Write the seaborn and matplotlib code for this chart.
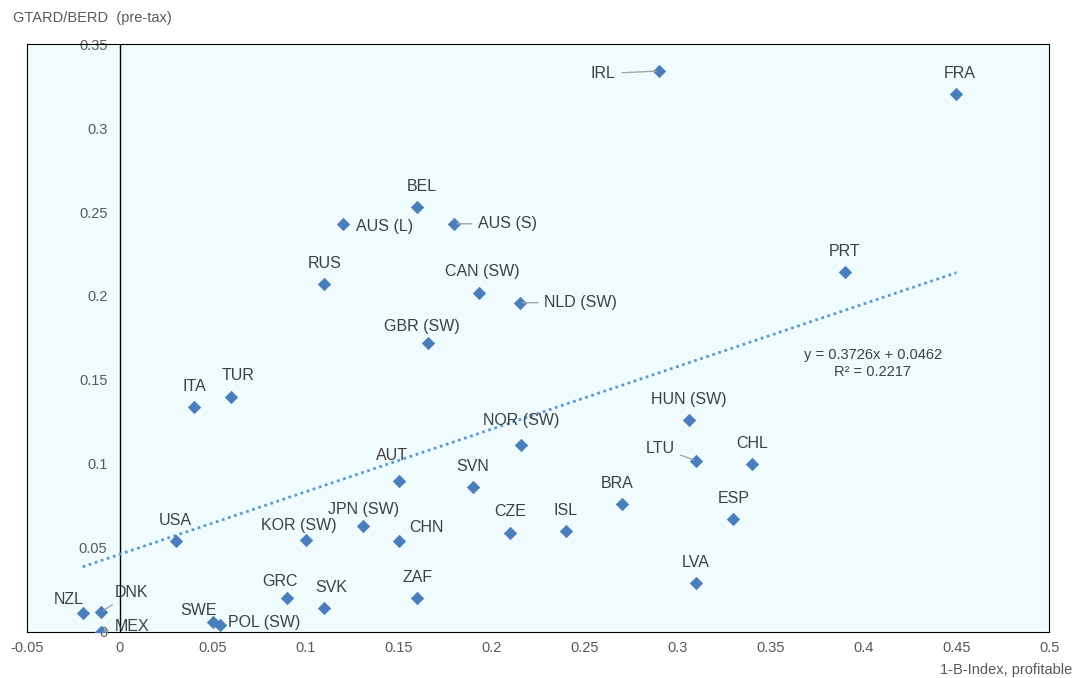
import matplotlib
matplotlib.use("Agg")
import matplotlib.pyplot as plt
import numpy as np
import pandas as pd
import seaborn as sns

sns.set_theme(style="white")
plt.rcParams['font.family'] = ['Liberation Sans', 'DejaVu Sans']

countries = ["NZL", "DNK", "MEX", "SWE", "POL (SW)", "GRC", "SVK", "ZAF", "USA", "KOR (SW)",
             "JPN (SW)", "CHN", "AUT", "SVN", "CZE", "ISL", "BRA", "NOR (SW)", "HUN (SW)", "LTU",
             "CHL", "ESP", "LVA", "ITA", "TUR", "GBR (SW)", "RUS", "CAN (SW)", "NLD (SW)",
             "AUS (L)", "AUS (S)", "BEL", "IRL", "PRT", "FRA"]
x_vals = [-0.02, -0.01, -0.01, 0.05, 0.054, 0.09, 0.11, 0.16, 0.03, 0.10,
          0.131, 0.15, 0.15, 0.19, 0.21, 0.24, 0.27, 0.216, 0.306, 0.31,
          0.34, 0.33, 0.31, 0.04, 0.06, 0.166, 0.11, 0.193, 0.215,
          0.12, 0.18, 0.16, 0.29, 0.39, 0.45]
y_vals = [0.011, 0.012, 0.0, 0.006, 0.004, 0.020, 0.014, 0.020, 0.054, 0.055,
          0.063, 0.054, 0.090, 0.086, 0.059, 0.060, 0.076, 0.111, 0.126, 0.102,
          0.100, 0.067, 0.029, 0.134, 0.140, 0.172, 0.207, 0.202, 0.196,
          0.243, 0.243, 0.253, 0.334, 0.214, 0.320]
slope, intercept = 0.3726, 0.0462

# label offsets in points (dx, dy); some get a leader line
offsets = {
    "NZL": (-10, 10), "DNK": (22, 14), "MEX": (22, 4), "SWE": (-10, 8), "POL (SW)": (32, 2),
    "GRC": (-5, 12), "SVK": (5, 15), "ZAF": (0, 15), "USA": (0, 15), "KOR (SW)": (-5, 10),
    "JPN (SW)": (0, 12), "CHN": (20, 10), "AUT": (-5, 18), "SVN": (0, 15), "CZE": (0, 15),
    "ISL": (0, 15), "BRA": (-3, 15), "NOR (SW)": (0, 18), "HUN (SW)": (0, 15), "LTU": (-26, 9),
    "CHL": (0, 15), "ESP": (0, 15), "LVA": (0, 15), "ITA": (0, 15), "TUR": (5, 15),
    "GBR (SW)": (-5, 12), "RUS": (0, 15), "CAN (SW)": (3, 15), "NLD (SW)": (44, 0),
    "AUS (L)": (30, -2), "AUS (S)": (38, 0), "BEL": (3, 15), "IRL": (-40, -2), "PRT": (0, 15),
    "FRA": (2, 15),
}
leaders = {"DNK", "MEX", "LTU", "NLD (SW)", "AUS (S)", "IRL"}

df = pd.DataFrame({"country": countries, "x": x_vals, "y": y_vals})

fig, ax = plt.subplots(figsize=(10.73, 6.78), dpi=100)
fig.subplots_adjust(left=0.025, right=0.978, top=0.935, bottom=0.068)
ax.set_facecolor("#f0fbfe")

sns.scatterplot(data=df, x="x", y="y", marker="D", s=40, color="#4a7ebb",
                edgecolor="#4a7ebb", ax=ax, zorder=3)
xt = np.array([-0.02, 0.45])
sns.lineplot(x=xt, y=slope * xt + intercept, ax=ax, color="#5b9bd5", lw=2,
             linestyle=(0, (1, 1.3)), zorder=2)

for c, xv, yv in zip(countries, x_vals, y_vals):
    dx, dy = offsets[c]
    props = dict(arrowstyle="-", color="#a6a6a6", lw=1) if c in leaders else None
    ax.annotate(c, (xv, yv), xytext=(dx, dy), textcoords="offset points",
                ha="center", va="center", fontsize=11.5, color="#404040",
                arrowprops=props, zorder=4)

ax.text(0.405, 0.16, "y = 0.3726x + 0.0462\nR² = 0.2217", ha="center", va="center",
        fontsize=10.5, color="#404040", linespacing=1.3)

ax.set_xlim(-0.05, 0.5)
ax.set_ylim(0, 0.35)
ax.set_xticks(np.arange(-0.05, 0.51, 0.05))
ax.set_xticklabels(["-0.05", "0", "0.05", "0.1", "0.15", "0.2", "0.25", "0.3", "0.35",
                    "0.4", "0.45", "0.5"])
ax.set_yticks([0, 0.05, 0.1, 0.15, 0.2, 0.25, 0.3, 0.35])
ax.set_yticklabels(["0", "0.05", "0.1", "0.15", "0.2", "0.25", "0.3", "0.35"])
ax.set_xlabel("")
ax.set_ylabel("")
ax.tick_params(axis="both", labelsize=10.5, colors="#595959", length=3, direction="out")
ax.tick_params(axis="y", pad=-58, length=0)
ax.axvline(0, color="black", lw=1, zorder=1)
for s in ax.spines.values():
    s.set_color("black")
    s.set_linewidth(0.8)

fig.text(0.012, 0.968, "GTARD/BERD  (pre-tax)", fontsize=10.5, color="#595959")
fig.text(0.999, 0.002, "1-B-Index, profitable", fontsize=10.5, color="#595959",
         ha="right", va="bottom")

fig.savefig("out.png", dpi=100)
